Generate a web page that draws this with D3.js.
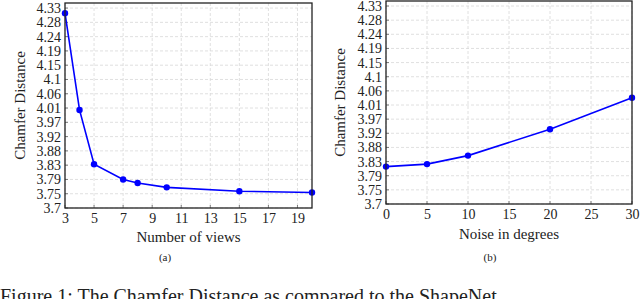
<!DOCTYPE html>
<html>
<head>
<meta charset="utf-8">
<script src="https://cdn.jsdelivr.net/npm/d3@7"></script>
<style>
  body { margin: 0; background: #fff; }
  svg { display: block; }
  text { font-family: "Liberation Serif", "DejaVu Serif", serif; fill: #222; }
</style>
</head>
<body>
<div id="chart"></div>
<script>
const W = 640
const H = 299

// Shared y ticks (pgfplots style labels)
const yTickValues = [3.7, 3.745, 3.79, 3.835, 3.88, 3.925, 3.97, 4.015, 4.06, 4.105, 4.15, 4.195, 4.24, 4.285, 4.33]
const yTickLabels = ['3.7', '3.75', '3.79', '3.83', '3.88', '3.92', '3.97', '4.01', '4.06', '4.1', '4.15', '4.19', '4.24', '4.28', '4.33']

// (a) Number of views
const viewsX = [3, 4, 5, 7, 8, 10, 15, 20]
const viewsY = [4.314, 4.009, 3.838, 3.79, 3.779, 3.765, 3.753, 3.749]
const viewsTicks = [3, 5, 7, 9, 11, 13, 15, 17, 19]

// (b) Noise in degrees
const noiseX = [0, 5, 10, 20, 30]
const noiseY = [3.819, 3.827, 3.854, 3.938, 4.038]
const noiseTicks = [0, 5, 10, 15, 20, 25, 30]

const TICK_FONT = '14px'
const LABEL_FONT = '15px'

const svg = d3.select('#chart').append('svg')
    .attr('width', W)
    .attr('height', H)

function drawPanel(opts) {
    const { left, right, top, bottom, xDomain, yDomain, xs, ys, xTicks,
            xLabel, sub, yLabelX, xLabelY, subY, subX } = opts

    const x = d3.scaleLinear().domain(xDomain).range([left, right])
    const y = d3.scaleLinear().domain(yDomain).range([bottom, top])
    const g = svg.append('g')

    // Grid
    g.selectAll('.gx').data(xTicks).enter().append('line')
        .attr('x1', d => x(d)).attr('x2', d => x(d))
        .attr('y1', top).attr('y2', bottom)
        .attr('stroke', '#d8d8d8').attr('stroke-width', 0.8)
        .attr('stroke-dasharray', '3,2')
    g.selectAll('.gy').data(yTickValues).enter().append('line')
        .attr('x1', left).attr('x2', right)
        .attr('y1', d => y(d)).attr('y2', d => y(d))
        .attr('stroke', '#d8d8d8').attr('stroke-width', 0.8)
        .attr('stroke-dasharray', '3,2')

    // Axes (labels only, frame drawn separately)
    const xAxis = d3.axisBottom(x).tickValues(xTicks).tickSize(0).tickPadding(5)
    g.append('g').attr('transform', `translate(0,${bottom})`).call(xAxis)
        .call(s => s.select('.domain').remove())
        .selectAll('text')
        .style('font-size', TICK_FONT)
        .style('font-family', '"Liberation Serif", serif')
        .attr('fill', '#222')

    const yAxis = d3.axisLeft(y).tickValues(yTickValues)
        .tickFormat((d, i) => yTickLabels[i]).tickSize(0).tickPadding(4)
    g.append('g').attr('transform', `translate(${left},0)`).call(yAxis)
        .call(s => s.select('.domain').remove())
        .selectAll('text')
        .style('font-size', TICK_FONT)
        .style('font-family', '"Liberation Serif", serif')
        .attr('fill', '#222')

    // Small inner tick marks
    g.selectAll('.tx').data(xTicks).enter().append('line')
        .attr('x1', d => x(d)).attr('x2', d => x(d))
        .attr('y1', bottom).attr('y2', bottom - 3)
        .attr('stroke', '#333').attr('stroke-width', 0.6)
    g.selectAll('.ty').data(yTickValues).enter().append('line')
        .attr('x1', left).attr('x2', left + 3)
        .attr('y1', d => y(d)).attr('y2', d => y(d))
        .attr('stroke', '#333').attr('stroke-width', 0.6)

    // Series
    const pts = xs.map((v, i) => [v, ys[i]])
    g.append('path')
        .datum(pts)
        .attr('fill', 'none')
        .attr('stroke', '#0000ff')
        .attr('stroke-width', 1.6)
        .attr('d', d3.line().x(d => x(d[0])).y(d => y(d[1])))
    g.selectAll('.pt').data(pts).enter().append('circle')
        .attr('cx', d => x(d[0])).attr('cy', d => y(d[1]))
        .attr('r', 3.2).attr('fill', '#0000ff')

    // Frame
    g.append('rect')
        .attr('x', left).attr('y', top)
        .attr('width', right - left).attr('height', bottom - top)
        .attr('fill', 'none').attr('stroke', '#222').attr('stroke-width', 1.3)

    // Labels
    g.append('text')
        .attr('transform', `translate(${yLabelX},${(top + bottom) / 2}) rotate(-90)`)
        .attr('text-anchor', 'middle')
        .attr('dominant-baseline', 'middle')
        .style('font-size', LABEL_FONT)
        .text('Chamfer Distance')
    g.append('text')
        .attr('x', (left + right) / 2).attr('y', xLabelY)
        .attr('text-anchor', 'middle')
        .attr('dominant-baseline', 'middle')
        .style('font-size', LABEL_FONT)
        .text(xLabel)
    g.append('text')
        .attr('x', subX).attr('y', subY)
        .attr('text-anchor', 'middle')
        .attr('dominant-baseline', 'middle')
        .style('font-size', '11px')
        .text(sub)
}

drawPanel({
    left: 65, right: 312, top: 3, bottom: 208,
    xDomain: [3, 20], yDomain: [3.7, 4.346],
    xs: viewsX, ys: viewsY, xTicks: viewsTicks,
    xLabel: 'Number of views', sub: '(a)',
    yLabelX: 22, xLabelY: 239, subX: 165, subY: 258
})

drawPanel({
    left: 386, right: 632, top: 1, bottom: 204,
    xDomain: [0, 30], yDomain: [3.7, 4.346],
    xs: noiseX, ys: noiseY, xTicks: noiseTicks,
    xLabel: 'Noise in degrees', sub: '(b)',
    yLabelX: 342, xLabelY: 236, subX: 490, subY: 258
})

// Figure caption, cut off by the bottom edge as in the source page
svg.append('text')
    .attr('x', 0).attr('y', 303)
    .style('font-size', '20px')
    .text('Figure 1: The Chamfer Distance as compared to the ShapeNet')
</script>
</body>
</html>
